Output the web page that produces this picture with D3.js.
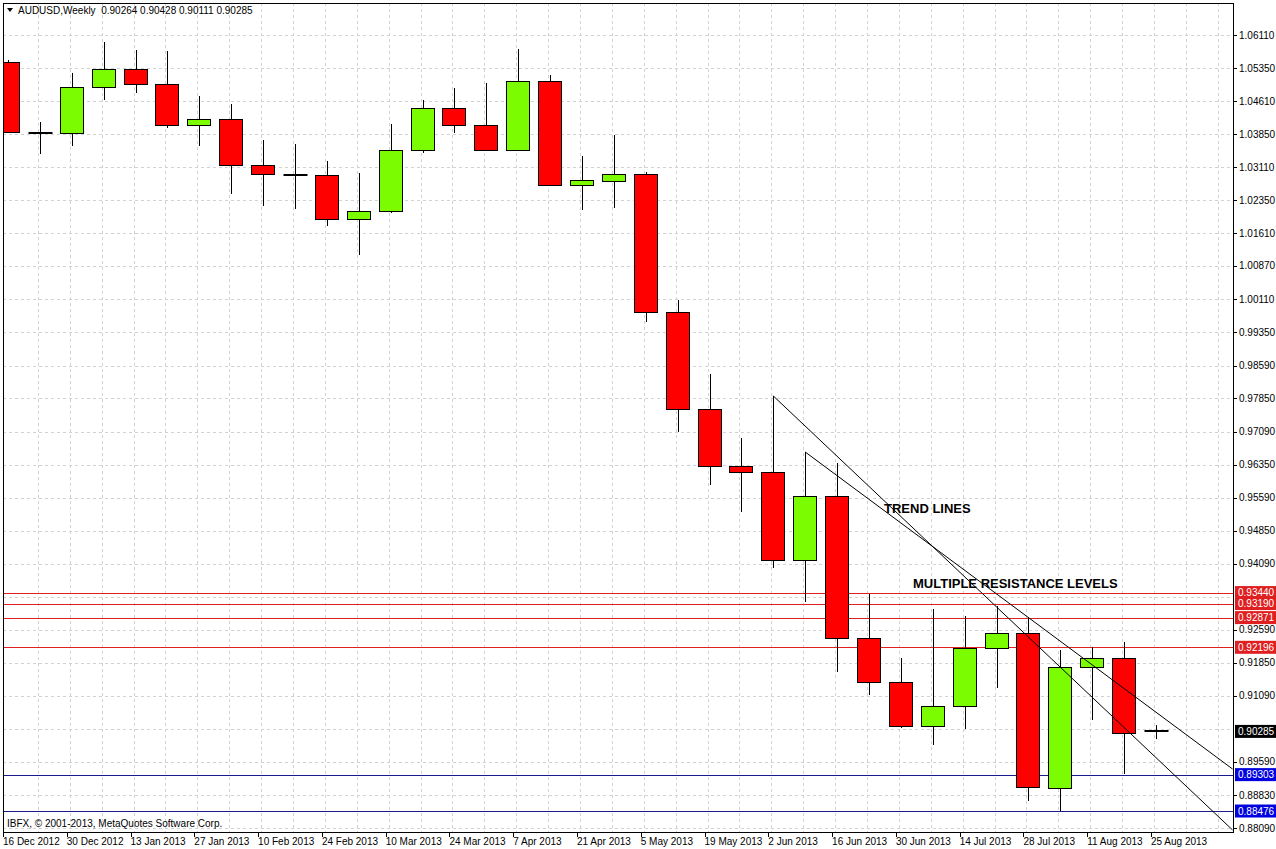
<!DOCTYPE html>
<html><head><meta charset="utf-8">
<script src="https://cdn.jsdelivr.net/npm/d3@7"></script>
<style>body{margin:0;background:#fff}svg{display:block}</style>
</head><body>
<svg id="c" width="1276" height="849"></svg>
<script>
// Weekly candles: open, high, low, close
const opens  = [1.05497,1.03890,1.03883,1.04928,1.05337,1.04997,1.04065,1.04201,1.03156,1.02929,1.02929,1.01929,1.02111,1.03497,1.04451,1.04065,1.03497,1.05065,1.02702,1.02793,1.02951,0.99816,0.97611,0.96316,0.96180,0.94180,0.95634,0.92408,0.91408,0.90408,0.90862,0.92180,0.92521,0.88999,0.91749,0.91953,0.90264];
const highs  = [1.05542,1.04133,1.05247,1.05951,1.05769,1.05746,1.04724,1.04542,1.03724,1.03633,1.03247,1.02974,1.04088,1.04633,1.04906,1.05019,1.05792,1.05201,1.03361,1.03838,1.02997,1.00088,0.98407,0.96952,0.97907,0.96634,0.96384,0.93407,0.91953,0.93067,0.92907,0.93135,0.92885,0.92135,0.92203,0.92317,0.90428];
const lows   = [1.03883,1.03406,1.03588,1.04633,1.04792,1.03997,1.03588,1.02497,1.02224,1.02156,1.01770,1.01111,1.02065,1.03429,1.03883,1.03497,1.03497,1.02702,1.02133,1.02179,0.99588,0.97089,0.95884,0.95271,0.93998,0.93226,0.91635,0.91112,0.90362,0.89976,0.90340,0.91271,0.88704,0.88476,0.90544,0.89317,0.90111];
const closes = [1.03906,1.03883,1.04928,1.05337,1.04997,1.04065,1.04201,1.03156,1.02951,1.02929,1.01929,1.02111,1.03497,1.04451,1.04065,1.03497,1.05065,1.02702,1.02815,1.02951,0.99816,0.97611,0.96316,0.96180,0.94180,0.95634,0.92408,0.91408,0.90408,0.90862,0.92180,0.92521,0.89022,0.91749,0.91953,0.90249,0.90285];
const dateLabels = ["16 Dec 2012","30 Dec 2012","13 Jan 2013","27 Jan 2013","10 Feb 2013","24 Feb 2013","10 Mar 2013","24 Mar 2013","7 Apr 2013","21 Apr 2013","5 May 2013","19 May 2013","2 Jun 2013","16 Jun 2013","30 Jun 2013","14 Jul 2013","28 Jul 2013","11 Aug 2013","25 Aug 2013"];
const priceTicks = [1.06110,1.05350,1.04610,1.03850,1.03110,1.02350,1.01610,1.00870,1.00110,0.99350,0.98590,0.97850,0.97090,0.96350,0.95590,0.94850,0.94090,0.92590,0.91850,0.91090,0.89590,0.88830,0.88090];
const hiddenGrid = [0.93330,0.90330];
const resistance = [0.93440,0.93190,0.92871,0.92196];
const support = [0.89303,0.88476];
const lastPrice = 0.90285;
// trend lines: [candle index, price]
const trend1 = [[24,0.97907],[38.4,0.88045]];
const trend2 = [[25,0.96634],[38.4,0.89431]];

const svg = d3.select("#c");
const L=3,T=3,R=1233,B=832;
const x = d3.scaleLinear().domain([0,36]).range([8,1156]);
const y = d3.scaleLinear().domain([0.88090,1.06110]).range([828,35]);
const font = "'Liberation Sans', Arial, sans-serif";

svg.append("rect").attr("x",0).attr("y",0).attr("width",1276).attr("height",849).attr("fill","#fff");
const g = svg.append("g");
g.append("defs").append("clipPath").attr("id","cp").append("rect").attr("x",L).attr("y",T).attr("width",R-L).attr("height",B-T);
const plot = g.append("g").attr("clip-path","url(#cp)");

// grid
const gridY = priceTicks.concat(hiddenGrid);
plot.selectAll(".gy").data(gridY).join("line").attr("x1",L).attr("x2",R)
  .attr("y1",d=>Math.round(y(d))+0.5).attr("y2",d=>Math.round(y(d))+0.5)
  .attr("stroke","#d2d2d2").attr("stroke-dasharray","3,3").attr("stroke-width",1);
plot.selectAll(".gx").data(d3.range(1,39)).join("line").attr("y1",T).attr("y2",B)
  .attr("x1",d=>Math.round(x(d))-1.5).attr("x2",d=>Math.round(x(d))-1.5)
  .attr("stroke","#d2d2d2").attr("stroke-dasharray","3,3");

// horizontal levels
plot.selectAll(".rl").data(resistance).join("line").attr("x1",L).attr("x2",R)
  .attr("y1",d=>Math.round(y(d))+0.5).attr("y2",d=>Math.round(y(d))+0.5).attr("stroke","#e02020");
plot.selectAll(".sl").data(support).join("line").attr("x1",L).attr("x2",R)
  .attr("y1",d=>Math.round(y(d))+0.5).attr("y2",d=>Math.round(y(d))+0.5).attr("stroke","#1a1a8a");

// candles
const idx = d3.range(opens.length);
const isDoji = i => Math.abs(opens[i]-closes[i])<0.0004;
plot.selectAll(".wk").data(idx).join("line")
  .attr("x1",i=>Math.round(x(i))+0.5).attr("x2",i=>Math.round(x(i))+0.5)
  .attr("y1",i=>y(highs[i])).attr("y2",i=>y(lows[i])).attr("stroke","#000");
const bw = 23;
plot.selectAll(".bd").data(idx.filter(i=>!isDoji(i))).join("rect")
  .attr("x",i=>Math.round(x(i))-11.5).attr("width",bw)
  .attr("y",i=>Math.round(y(Math.max(opens[i],closes[i])))+0.5)
  .attr("height",i=>Math.round(Math.abs(y(opens[i])-y(closes[i]))))
  .attr("fill",i=>closes[i]>opens[i]?"#7cfc00":"#ff0000")
  .attr("stroke","#000").attr("stroke-width",1);
plot.selectAll(".dj").data(idx.filter(isDoji)).join("line")
  .attr("x1",i=>Math.round(x(i))-11.5).attr("x2",i=>Math.round(x(i))+12.5)
  .attr("y1",i=>Math.round(y(closes[i]))).attr("y2",i=>Math.round(y(closes[i])))
  .attr("stroke","#000").attr("stroke-width",2);

// trend lines
[trend1,trend2].forEach(t=>{
  plot.append("line").attr("x1",x(t[0][0])).attr("y1",y(t[0][1])).attr("x2",x(t[1][0])).attr("y2",y(t[1][1]))
    .attr("stroke","#000").attr("stroke-width",1);
});

// annotations
plot.append("text").attr("x",884).attr("y",513).text("TREND LINES")
  .attr("font-family","Arial, 'Liberation Sans', sans-serif").attr("font-weight","bold").attr("font-size",13);
plot.append("text").attr("x",913).attr("y",588).text("MULTIPLE RESISTANCE LEVELS")
  .attr("font-family","Arial, 'Liberation Sans', sans-serif").attr("font-weight","bold").attr("font-size",13);
plot.append("text").attr("x",7).attr("y",827).text("IBFX, © 2001-2013, MetaQuotes Software Corp.")
  .attr("font-family",font).attr("font-size",10).attr("fill","#000");
// header
plot.append("path").attr("d","M7,8 L13,8 L10,12 Z").attr("fill","#000");
plot.append("text").attr("x",18).attr("y",14).text("AUDUSD,Weekly  0.90264 0.90428 0.90111 0.90285")
  .attr("font-family",font).attr("font-size",10).attr("fill","#000").attr("xml:space","preserve");

// frame
g.append("rect").attr("x",L+0.5).attr("y",T+0.5).attr("width",R-L).attr("height",B-T).attr("fill","none").attr("stroke","#000");

// right axis
const ax = g.append("g");
ax.selectAll("line").data(priceTicks).join("line").attr("x1",R).attr("x2",R+4)
  .attr("y1",d=>Math.round(y(d))+0.5).attr("y2",d=>Math.round(y(d))+0.5).attr("stroke","#000");
ax.selectAll("text").data(priceTicks).join("text").attr("x",R+6).attr("y",d=>y(d)+3.5)
  .text(d=>d.toFixed(5)).attr("font-family",font).attr("font-size",10);
const tags = resistance.map(v=>({v,bg:"#e02020",fg:"#fff"}))
  .concat(support.map(v=>({v,bg:"#0000e0",fg:"#fff"})),[{v:lastPrice,bg:"#000",fg:"#fff"}]);
tags.forEach(t=>{
  const yy=y(t.v);
  ax.append("rect").attr("x",R+2).attr("y",yy-6.5).attr("width",41).attr("height",13).attr("fill",t.bg);
  ax.append("text").attr("x",R+5).attr("y",yy+3.5).text(t.v.toFixed(5)).attr("fill",t.fg)
    .attr("font-family",font).attr("font-size",10);
});

// bottom axis
const bx = g.append("g");
bx.selectAll("line").data(dateLabels).join("line")
  .attr("x1",(d,i)=>Math.round(x(i*2))-4.5).attr("x2",(d,i)=>Math.round(x(i*2))-4.5)
  .attr("y1",B).attr("y2",B+5).attr("stroke","#000");
bx.selectAll("text").data(dateLabels).join("text").attr("x",(d,i)=>x(i*2)-5).attr("y",845)
  .text(d=>d).attr("font-family",font).attr("font-size",10);
</script>
</body></html>
